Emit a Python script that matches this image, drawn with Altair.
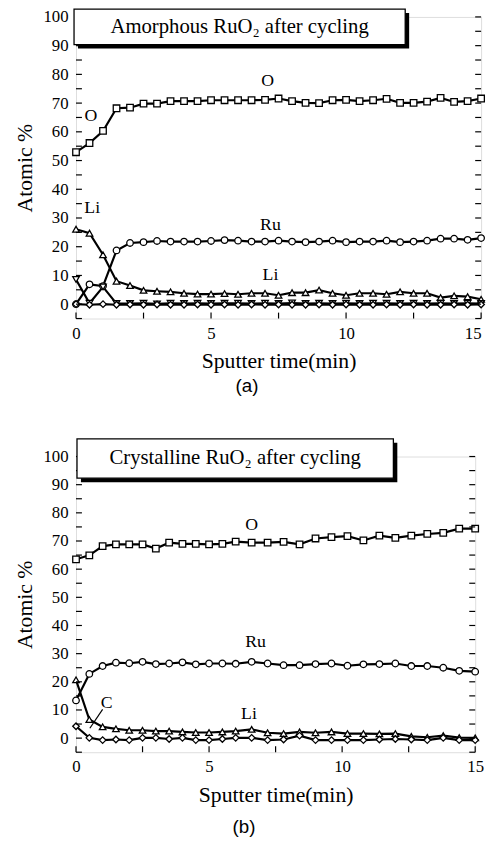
import altair as alt
import pandas as pd

# ---------------- data: panel (a) amorphous ----------------
t_a = [0, 0.5, 1, 1.5, 2, 2.5, 3, 3.5, 4, 4.5, 5, 5.5, 6, 6.5, 7, 7.5, 8, 8.5, 9, 9.5,
       10, 10.5, 11, 11.5, 12, 12.5, 13, 13.5, 14, 14.5, 15]
O_a = [52.9, 56.1, 60.3, 68.2, 68.4, 69.8, 69.8, 70.7, 70.7, 70.7, 71.0, 71.0,
       71.0, 71.0, 71.1, 71.6, 70.7, 70.1, 70.0, 71.0, 71.1, 70.7, 71.0, 71.5, 70.1,
       70.1, 70.5, 71.8, 70.4, 70.7, 71.6]
Ru_a = [0.0, 6.9, 6.3, 18.7, 21.3, 21.6, 22.0, 21.8, 21.8, 21.8, 22.0, 22.3,
        22.1, 21.8, 21.8, 22.1, 21.8, 21.6, 21.8, 22.1, 21.6, 21.8, 21.8, 22.1, 21.6,
        21.8, 22.1, 22.8, 22.8, 22.4, 23.0]
Li_a = [26.1, 24.7, 17.2, 8.0, 6.5, 4.8, 4.5, 4.3, 3.8, 3.5, 3.5, 3.7,
        3.45, 3.8, 3.8, 3.1, 4.0, 4.0, 4.9, 3.8, 3.1, 3.8, 3.8, 3.45, 4.3,
        3.8, 3.8, 2.3, 2.9, 2.6, 1.7]
X_a = [8.6, 0.3, 6.0, 0.2, 0.2, 0.3, 0.1, 0.3, 0.2, 0.3, 0.2, 0.3,
       0.3, 0.2, 0.3, 0.2, 0.4, 0.2, 0.3, 0.2, 0.3, 0.2, 0.3, 0.3, 0.2,
       0.3, 0.2, 0.3, 0.2, 0.3, 0.2]
C_a = [0.0, -0.2, 0.0, -0.2, -0.1, -0.2, -0.1, -0.2, -0.2, -0.1, -0.2, -0.1,
       -0.2, -0.1, -0.2, -0.1, -0.2, -0.2, -0.1, -0.2, -0.1, -0.2, -0.2, -0.1, -0.2,
       -0.1, -0.2, -0.2, -0.1, -0.2, -0.1]

# ---------------- data: panel (b) crystalline ----------------
t_b = [0, 0.5, 1, 1.5, 2, 2.5, 3, 3.5, 4, 4.5, 5, 5.5, 6, 6.6, 7.2, 7.8, 8.4, 9.0,
       9.6, 10.2, 10.8, 11.4, 12.0, 12.6, 13.2, 13.8, 14.4, 15.0]
O_b = [63.5, 64.9, 68.2, 68.8, 68.8, 68.8, 67.3, 69.4, 69.0, 69.0, 68.8, 69.0, 69.8,
       69.4, 69.4, 69.7, 68.8, 70.9, 71.4, 71.7, 70.2, 71.9, 71.1, 71.9, 72.5, 72.9,
       74.4, 74.4]
Ru_b = [13.4, 22.8, 25.6, 26.8, 26.6, 27.1, 26.3, 26.5, 26.9, 26.2, 26.5, 26.5, 26.4,
        27.1, 26.5, 25.9, 25.9, 26.3, 26.5, 25.7, 26.2, 26.3, 26.5, 25.6, 25.6, 25.0,
        23.9, 23.6]
Li_b = [20.7, 6.6, 4.0, 3.3, 2.8, 2.8, 2.5, 2.5, 2.2, 2.0, 2.0, 2.2, 2.5,
        3.1, 1.9, 1.6, 2.2, 1.9, 2.2, 1.6, 1.6, 1.5, 1.6, 0.6, 0.3, 0.9, 0.2, 0.1]
C_b = [4.2, 0.1, -0.7, -0.5, -0.7, 0.1, 0.1, -0.3, 0.1, -0.7, -0.7, -0.3, 0.1,
       0.1, -0.7, -0.5, 0.9, -0.7, -0.7, -0.7, -0.7, -0.5, -0.3, -0.5, -0.7, 0.1,
       -0.7, -0.7]

series_names = ["O", "Ru", "Li", "X", "C"]
shape_range = ["square", "circle", "triangle-up", "triangle-down", "diamond"]

y_major = [0, 10, 20, 30, 40, 50, 60, 70, 80, 90, 100]
y_minor = [-5, 5, 15, 25, 35, 45, 55, 65, 75, 85, 95]
x_major = [0, 5, 10, 15]
x_minor = [2.5, 7.5, 12.5]

labels_a = pd.DataFrame({"t": [0.55, 7.1, 0.6, 7.2, 7.2],
                         "v": [65.5, 77.6, 33.3, 27.6, 10.3],
                         "label": ["O", "O", "Li", "Ru", "Li"]})
labels_b = pd.DataFrame({"t": [6.6, 6.75, 6.5, 1.15],
                         "v": [75.8, 34.2, 8.5, 12.3],
                         "label": ["O", "Ru", "Li", "C"]})
leader_b = pd.DataFrame({"t": [0.52], "v": [3.5], "t2": [1.0], "v2": [10.2]})

SERIF = "Liberation Serif"

XS = alt.Scale(domain=[0, 15], nice=False, zero=False)
YS = alt.Scale(domain=[-5, 100], nice=False, zero=False)
YAXIS = alt.Axis(values=y_major, ticks=False, domain=False, grid=False,
                 labelFont=SERIF, labelFontSize=17, labelColor="black",
                 labelPadding=8, labelFlush=False, labelOverlap=False,
                 title="Atomic %", titleFont=SERIF,
                 titleFontSize=22, titleFontWeight="normal", titleColor="black",
                 titlePadding=7)


def make_xaxis(last_right):
    align = ({"condition": {"test": "datum.value == 15", "value": "right"},
              "value": "center"} if last_right else "center")
    return alt.Axis(values=x_major, ticks=False, domain=False, grid=False,
                    labelFont=SERIF, labelFontSize=17, labelColor="black",
                    labelPadding=7, labelFlush=False, labelOverlap=False,
                    labelAlign=align,
                    title="Sputter time(min)", titleFont=SERIF,
                    titleFontSize=22, titleFontWeight="normal", titleColor="black",
                    titlePadding=10)


def long(t, cols):
    rows = []
    for name, vals in cols.items():
        for ti, vi in zip(t, vals):
            rows.append({"t": ti, "v": vi, "s": name})
    return pd.DataFrame(rows)


def panel(df, W, H, box, box_text, labels, letter, letter_offset, last_right,
          extra=None):
    xaxis = make_xaxis(last_right)

    def X(field="t"):
        return alt.X(f"{field}:Q", scale=XS, axis=xaxis)

    def Y(field="v"):
        return alt.Y(f"{field}:Q", scale=YS, axis=YAXIS)

    lines = alt.Chart(df).mark_line(color="black", strokeWidth=2.2).encode(
        x=X(), y=Y(), detail="s:N", order="t:Q")
    pts = alt.Chart(df).mark_point(filled=True, fill="white", stroke="black",
                                   strokeWidth=1.3, opacity=1, size=44).encode(
        x=X(), y=Y(),
        shape=alt.Shape("s:N", scale=alt.Scale(domain=series_names, range=shape_range),
                        legend=None))

    ydf = pd.DataFrame({"v": y_major + y_minor})
    xdf = pd.DataFrame({"t": x_major + x_minor})
    lt = alt.Chart(ydf).mark_rule(color="black", strokeWidth=1.2).encode(
        y=Y(), x=alt.value(0), x2=alt.value(6))
    rt = alt.Chart(ydf).mark_rule(color="black", strokeWidth=1.2).encode(
        y=Y(), x=alt.value(W), x2=alt.value(W - 6))
    bt = alt.Chart(xdf).mark_rule(color="black", strokeWidth=1.2).encode(
        x=X(), y=alt.value(H), y2=alt.value(H - 6))

    one = pd.DataFrame({"k": [0]})
    l, r, top, bot = box
    shadow = alt.Chart(one).mark_rect(color="black").encode(
        x=alt.value(l + 4), x2=alt.value(r + 4), y=alt.value(top + 4), y2=alt.value(bot + 4))
    rect = alt.Chart(one).mark_rect(fill="white", stroke="black", strokeWidth=1.3).encode(
        x=alt.value(l), x2=alt.value(r), y=alt.value(top), y2=alt.value(bot))
    btxt = alt.Chart(one).mark_text(font=SERIF, fontSize=21, color="black",
                                    baseline="middle", align="center").encode(
        x=alt.value((l + r) / 2), y=alt.value((top + bot) / 2), text=alt.value(box_text))

    lab = alt.Chart(labels).mark_text(font=SERIF, fontSize=18, color="black").encode(
        x=X(), y=Y(), text="label:N")

    layers = [lines, pts, lt, rt, bt, shadow, rect, btxt, lab]
    if extra is not None:
        layers.append(extra(X, Y))
    return alt.layer(*layers).properties(
        width=W, height=H,
        title=alt.TitleParams(letter, orient="bottom", font="Liberation Sans",
                              fontSize=19, fontWeight="normal", color="black",
                              dx=-32, offset=letter_offset))


df_a = long(t_a, {"O": O_a, "Ru": Ru_a, "Li": Li_a, "X": X_a, "C": C_a})
df_b = long(t_b, {"O": O_b, "Ru": Ru_b, "Li": Li_b, "C": C_b})


def leader(X, Y):
    return alt.Chart(leader_b).mark_rule(color="black", strokeWidth=1.2).encode(
        x=X(), x2="t2:Q", y=Y(), y2="v2:Q")


pa = panel(df_a, 411, 306, (-2, 334, -8, 28), "Amorphous RuO₂ after cycling",
           labels_a, "(a)", 6, True)
pb = panel(df_b, 405, 300, (1, 322, -18, 22), "Crystalline RuO₂ after cycling",
           labels_b, "(b)", 13, False, extra=leader)

chart = alt.vconcat(pa, pb, spacing=40).configure_view(
    stroke="black", strokeWidth=1.5).configure(
    background="white", padding={"left": 5, "top": -7, "right": 0, "bottom": -5})

chart.save("out.html", embed_options={"renderer": "svg", "actions": False})
